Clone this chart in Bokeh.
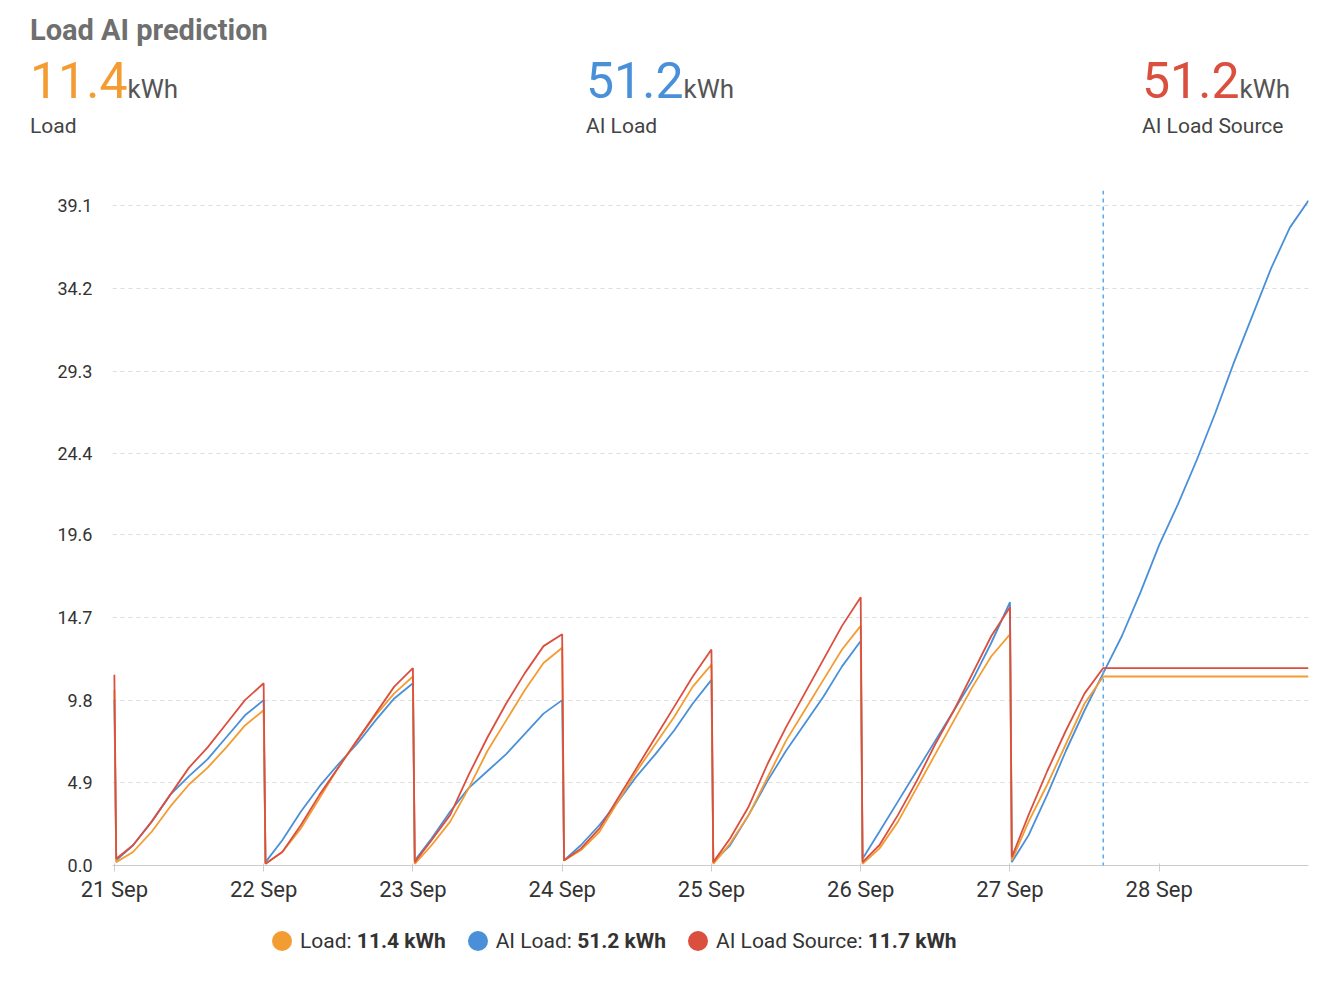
from bokeh.plotting import figure
from bokeh.models import FixedTicker, Span, Div
from bokeh.layouts import column
from bokeh.embed import file_html
from bokeh.resources import INLINE

day_hours = [0, 3, 6, 9, 12, 15, 18, 21, 24]
load_days = [
    [0.2, 0.8, 2.0, 3.5, 4.8, 5.8, 7.0, 8.3, 9.2],
    [0.1, 0.8, 2.2, 4.0, 5.8, 7.4, 8.9, 10.2, 11.2],
    [0.1, 1.2, 2.6, 4.6, 6.8, 8.6, 10.4, 12.0, 12.9],
    [0.3, 0.9, 2.0, 3.8, 5.6, 7.2, 8.8, 10.6, 11.9],
    [0.1, 1.3, 3.0, 5.2, 7.4, 9.2, 11.0, 12.8, 14.2],
    [0.1, 1.0, 2.6, 4.6, 6.6, 8.6, 10.6, 12.4, 13.7],
    [0.3, 2.6, 4.8, 7.2, 9.6, 11.2],
]
source_days = [
    [0.4, 1.2, 2.6, 4.2, 5.8, 7.0, 8.4, 9.8, 10.8],
    [0.1, 0.8, 2.4, 4.2, 5.8, 7.4, 9.0, 10.6, 11.7],
    [0.2, 1.5, 3.0, 5.4, 7.6, 9.6, 11.4, 13.0, 13.7],
    [0.3, 1.0, 2.2, 4.0, 5.8, 7.6, 9.4, 11.2, 12.8],
    [0.2, 1.6, 3.5, 6.0, 8.2, 10.2, 12.2, 14.2, 15.9],
    [0.2, 1.2, 3.0, 5.0, 7.2, 9.2, 11.4, 13.6, 15.3],
    [0.5, 3.0, 5.6, 8.0, 10.2, 11.7],
]
ai_days = [
    [0.3, 1.2, 2.6, 4.2, 5.3, 6.3, 7.6, 8.9, 9.8],
    [0.2, 1.5, 3.2, 4.7, 6.0, 7.2, 8.6, 9.9, 10.8],
    [0.3, 1.6, 3.2, 4.6, 5.6, 6.6, 7.8, 9.0, 9.8],
    [0.3, 1.2, 2.4, 3.8, 5.3, 6.6, 8.0, 9.6, 11.0],
    [0.2, 1.2, 3.0, 5.0, 6.8, 8.4, 10.0, 11.8, 13.3],
    [0.4, 2.0, 3.8, 5.6, 7.4, 9.2, 11.0, 13.2, 15.6],
    [0.2, 1.8, 4.2, 6.8, 9.2, 11.4],
]
ai_forecast_hours = [162, 165, 168, 171, 174, 177, 180, 183, 186, 189, 192]
ai_forecast = [13.6, 16.2, 19.0, 21.4, 24.0, 26.8, 29.8, 32.6, 35.4, 37.8, 39.4]
start_vals = {"load": 10.4, "source": 11.3, "ai": 9.8}
load_flat, source_flat = 11.2, 11.7
now_hour = 159
y_ticks = [0.0, 4.9, 9.8, 14.7, 19.6, 24.4, 29.3, 34.2, 39.1]
x_labels = ["21 Sep", "22 Sep", "23 Sep", "24 Sep", "25 Sep", "26 Sep", "27 Sep", "28 Sep"]
header = [("11.4", "Load"), ("51.2", "AI Load"), ("51.2", "AI Load Source")]
legend = [("Load: ", "11.4 kWh"), ("AI Load: ", "51.2 kWh"), ("AI Load Source: ", "11.7 kWh")]

ORANGE, BLUE, RED = "#f39c32", "#4a90d9", "#db4f3f"
FONT = "Roboto"

def build(days, start):
    xs, ys = [0], [start]
    for d, vals in enumerate(days):
        for h, v in zip(day_hours, vals):
            xs.append(d * 24 + h + (0.3 if h == 0 else 0))
            ys.append(v)
    return xs, ys

p = figure(width=1322, height=742, output_backend="svg", toolbar_location=None,
           x_range=(-0.3, 192), y_range=(0, 40),
           min_border_left=112, min_border_right=14, min_border_top=12, min_border_bottom=55)
p.outline_line_color = None
p.xgrid.grid_line_color = None
p.ygrid.grid_line_color = "#dddddd"
p.ygrid.grid_line_dash = "4 4"
p.yaxis.ticker = FixedTicker(ticks=y_ticks)
p.yaxis.major_label_overrides = {t: f"{t:.1f}" for t in y_ticks}
p.yaxis.axis_line_color = None
p.yaxis.major_tick_line_color = None
p.yaxis.minor_tick_line_color = None
p.yaxis.major_label_standoff = 14
p.xaxis.ticker = FixedTicker(ticks=[i * 24 for i in range(8)])
p.xaxis.major_label_overrides = {i * 24: l for i, l in enumerate(x_labels)}
p.xaxis.axis_line_color = "#cccccc"
p.xaxis.major_tick_line_color = "#cccccc"
p.xaxis.minor_tick_line_color = None
for ax in (p.xaxis, p.yaxis):
    ax.major_label_text_font = FONT
    ax.major_label_text_color = "#333333"
p.yaxis.major_label_text_font_size = "18px"
p.xaxis.major_label_text_font_size = "22px"

lx, ly = build(load_days, start_vals["load"])
lx += [192]; ly += [load_flat]
sx, sy = build(source_days, start_vals["source"])
sx += [192]; sy += [source_flat]
ax_, ay = build(ai_days, start_vals["ai"])
ax_ += ai_forecast_hours; ay += ai_forecast

p.line(ax_, ay, color=BLUE, line_width=1.8)
p.line(lx, ly, color=ORANGE, line_width=1.8)
p.line(sx, sy, color=RED, line_width=1.8)
p.add_layout(Span(location=now_hour, dimension="height", line_color="#5aaaea", line_dash="4 4", line_width=1.5))

cols = [ORANGE, BLUE, RED]
lefts = [30, 586, 1142]
h = (f'<div style="position:relative;width:1322px;height:178px;font-family:Roboto;">'
     f'<div style="position:absolute;left:30px;top:10px;font-size:29px;font-weight:bold;color:#6f6f6f;">Load AI prediction</div>')
for (val, name), c, l in zip(header, cols, lefts):
    h += (f'<div style="position:absolute;left:{l}px;top:46px;white-space:nowrap;">'
          f'<span style="font-size:50px;color:{c};">{val}</span>'
          f'<span style="font-size:26px;color:#555;">kWh</span></div>'
          f'<div style="position:absolute;left:{l}px;top:111px;font-size:21px;color:#444;">{name}</div>')
h += '</div>'
hdr = Div(text=h, width=1322, height=178, margin=0)

lg = '<div style="width:1322px;height:50px;font-family:Roboto;font-size:21px;color:#333;">'
lg += '<div style="position:absolute;left:272px;top:6px;white-space:nowrap;">'
for (name, val), c in zip(legend, cols):
    lg += (f'<span style="display:inline-block;width:20px;height:20px;border-radius:10px;background:{c};'
           f'vertical-align:-3px;margin-right:8px;"></span>{name}<b>{val}</b>'
           f'<span style="display:inline-block;width:22px;"></span>')
lg += '</div></div>'
leg = Div(text=lg, width=1322, height=50, margin=0)

p.margin = 0
layout = column(hdr, p, leg, spacing=0)
open("out.html", "w").write(file_html(layout, INLINE))
